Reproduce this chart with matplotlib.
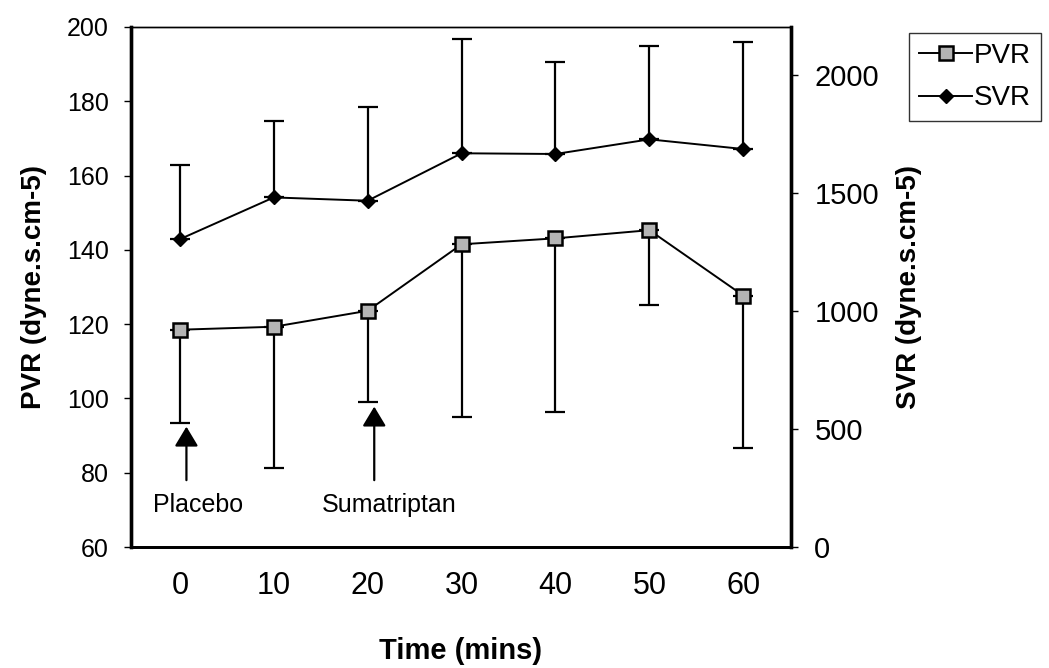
import numpy as np
import matplotlib
matplotlib.use("Agg")
import matplotlib.pyplot as plt

plt.rcParams["font.family"] = ["Liberation Sans", "DejaVu Sans"]

# Haemodynamic measurements over time (mean, one-sided SD bars)
times = [0, 10, 20, 30, 40, 50, 60]
pvr = [118.5, 119.3, 123.6, 141.5, 143.1, 145.3, 127.7]
pvr_lower = [93.5, 81.4, 99.1, 95.1, 96.4, 125.2, 86.7]
svr = [1304, 1481, 1467, 1668, 1665, 1727, 1686]
svr_upper = [1618, 1805, 1863, 2154, 2056, 2124, 2138]

pvr_ticks = [60, 80, 100, 120, 140, 160, 180, 200]
svr_ticks = [0, 500, 1000, 1500, 2000]

# Dosing markers: (label, time, arrow base, arrow tip) on the PVR scale
doses = [("Placebo", 0.7, 78.0, 92.4), ("Sumatriptan", 20.7, 78.0, 97.8)]
dose_text_x = [-2.9, 15.1]

pvr = np.array(pvr)
svr = np.array(svr)
pvr_err = [pvr - np.array(pvr_lower), np.zeros_like(pvr)]
svr_err = [np.zeros_like(svr), np.array(svr_upper) - svr]

fig = plt.figure(figsize=(10.49, 6.68), dpi=100, facecolor="white")
ax = fig.add_axes([0.1249, 0.1811, 0.6289, 0.7785])
ax2 = ax.twinx()

ax.errorbar(times, pvr, yerr=pvr_err, fmt="none", ecolor="black",
            elinewidth=1.6, capsize=7, capthick=1.6, zorder=2)
ax.plot(times, pvr, color="black", linewidth=1.4, marker="s", markersize=10,
        markerfacecolor="#b4b4b4", markeredgecolor="black",
        markeredgewidth=1.8, zorder=3, label="PVR")

ax2.errorbar(times, svr, yerr=svr_err, fmt="none", ecolor="black",
             elinewidth=1.6, capsize=7, capthick=1.6, zorder=2)
ax2.plot(times, svr, color="black", linewidth=1.4, marker="D", markersize=7.5,
         markerfacecolor="black", markeredgecolor="black", zorder=3,
         label="SVR")

for (name, t, y0, y1), tx in zip(doses, dose_text_x):
    ax.annotate("", xy=(t, y1), xytext=(t, y0),
                arrowprops=dict(arrowstyle="-|>,head_length=0.6,head_width=0.36",
                                mutation_scale=20, lw=1.6, color="black",
                                shrinkA=0, shrinkB=0))
    ax.text(tx, 71.3, name, fontsize=18, va="center", ha="left")

ax.set_xlim(-5.2, 65.05)
ax.set_ylim(60, 200)
ax2.set_ylim(0, 2203)
ax.set_xticks(times)
ax.set_yticks(pvr_ticks)
ax2.set_yticks(svr_ticks)

ax.tick_params(axis="x", length=0, pad=17, labelsize=22)
ax.tick_params(axis="y", direction="out", length=5, width=1, pad=11,
               labelsize=18)
ax2.tick_params(axis="y", direction="out", length=5, width=1, pad=12,
                labelsize=21)

ax.set_xlabel("Time (mins)", fontsize=21, fontweight="bold", labelpad=26)
ax.set_ylabel("PVR (dyne.s.cm-5)", fontsize=20, fontweight="bold",
              labelpad=14)
ax2.set_ylabel("SVR (dyne.s.cm-5)", fontsize=20, fontweight="bold",
               labelpad=12)

for a in (ax, ax2):
    a.spines["left"].set_linewidth(2.4)
    a.spines["right"].set_linewidth(2.4)
    a.spines["top"].set_linewidth(1.0)
    a.spines["bottom"].set_linewidth(2.0)

h1, l1 = ax.get_legend_handles_labels()
h2, l2 = ax2.get_legend_handles_labels()
leg = fig.legend(h1 + h2, l1 + l2, loc="upper left",
                 bbox_to_anchor=(0.867, 0.9506), fontsize=20,
                 frameon=True, fancybox=False, edgecolor="black",
                 handlelength=1.9, handletextpad=0.08, borderpad=0.35,
                 labelspacing=0.6, borderaxespad=0)
leg.get_frame().set_linewidth(1.0)

fig.savefig("out.png", dpi=100, facecolor="white")
plt.close(fig)
